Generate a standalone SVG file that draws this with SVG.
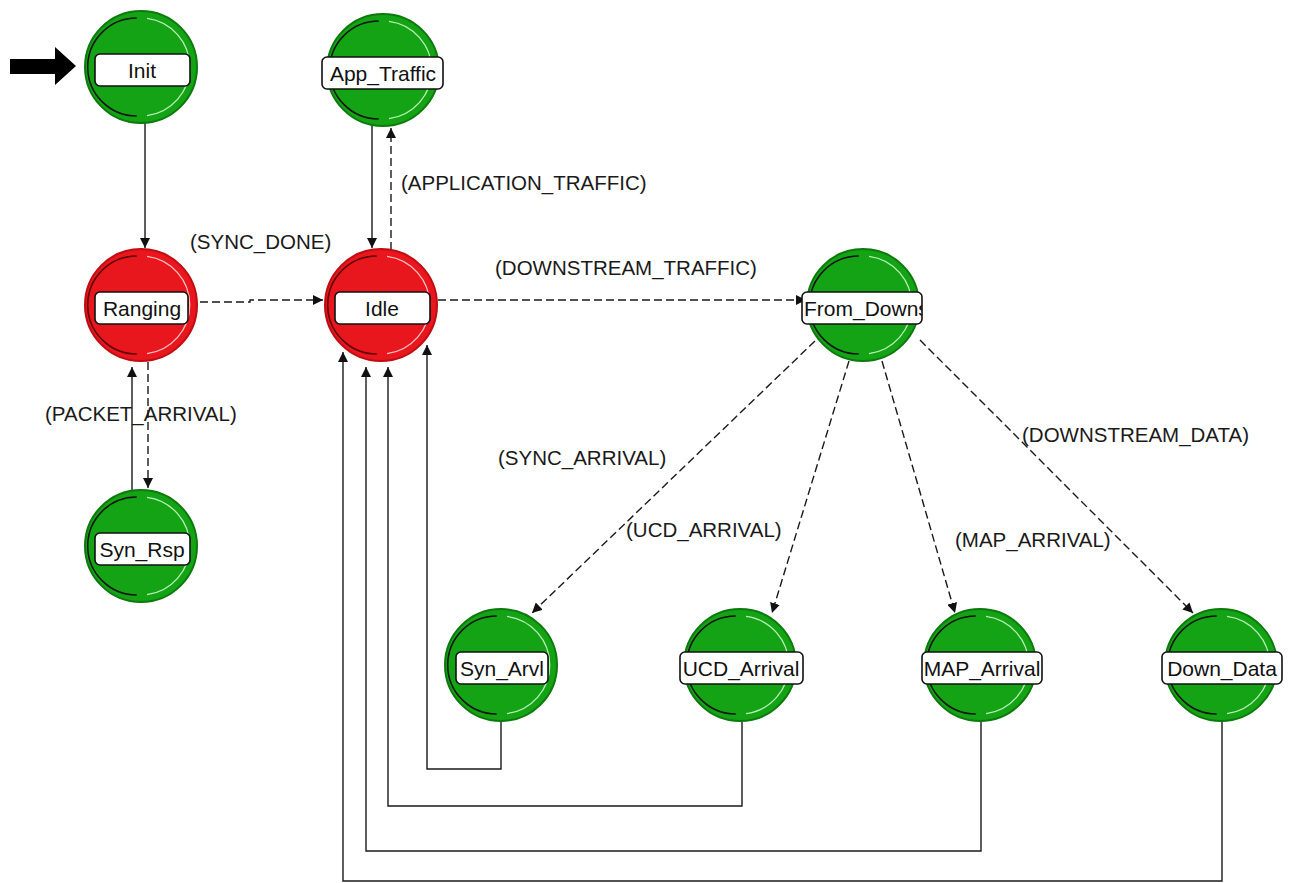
<svg xmlns="http://www.w3.org/2000/svg" width="1291" height="883" viewBox="0 0 1291 883">
  <style>
    .edge { fill: none; stroke: #1a1a1a; stroke-width: 1.4; }
    .dash { stroke-dasharray: 8 4; }
    .lbl { font-family: "Liberation Sans", Arial, sans-serif; font-size: 20.5px; fill: #1a1a1a; }
    .name { font-family: "Liberation Sans", Arial, sans-serif; font-size: 21px; fill: #111; text-anchor: middle; }
    .box { fill: #ffffff; stroke: #111; stroke-width: 1.6; }
  </style>
  <defs>
    <marker id="arr" viewBox="0 0 10 10" refX="10" refY="5" markerWidth="10" markerHeight="10" markerUnits="userSpaceOnUse" orient="auto">
      <path d="M0,0 L10,5 L0,10 z" fill="#111"/>
    </marker>
    <!-- forced (red) and unforced (green) state discs, drawn at the origin -->
    <g id="disc-green">
      <circle r="56" fill="#14a314" stroke="#0d7a0d" stroke-width="2"/>
      <path d="M -4.3 -49 A 49 49 0 0 0 -4.3 49" fill="none" stroke="#111" stroke-width="1.5"/>
      <path d="M 6 -48.6 A 49 49 0 0 1 6 48.6" fill="none" stroke="#b9f2b9" stroke-width="1.3"/>
    </g>
    <g id="disc-red">
      <circle r="56" fill="#e8161d" stroke="#c00c12" stroke-width="2"/>
      <path d="M -4.3 -49 A 49 49 0 0 0 -4.3 49" fill="none" stroke="#5a0000" stroke-width="1.5"/>
      <path d="M 6 -48.6 A 49 49 0 0 1 6 48.6" fill="none" stroke="#ffc0c4" stroke-width="1.3"/>
    </g>
    <clipPath id="clip-from">
      <rect x="802" y="292" width="120" height="32"/>
    </clipPath>
  </defs>

  <!-- initial-state marker -->
  <polygon id="start" points="10,59 55,59 55,47 76,66 55,85 55,74 10,74" fill="#000"/>

  <!-- transitions -->
  <g id="connectors">
    <path class="edge" d="M145 122 V248" marker-end="url(#arr)"/>
    <path class="edge dash" d="M200 302 H250 V300 H323" marker-end="url(#arr)"/>
    <path class="edge dash" d="M148 362 V488" marker-end="url(#arr)"/>
    <path class="edge" d="M132 494 V367" marker-end="url(#arr)"/>
    <path class="edge" d="M372 126 V248" marker-end="url(#arr)"/>
    <path class="edge dash" d="M391 250 V128" marker-end="url(#arr)"/>
    <path class="edge dash" d="M438 300 H806" marker-end="url(#arr)"/>
    <path class="edge dash" d="M815 341 L532 613" marker-end="url(#arr)"/>
    <path class="edge dash" d="M849 361 L772 613" marker-end="url(#arr)"/>
    <path class="edge dash" d="M882 361 L955 613" marker-end="url(#arr)"/>
    <path class="edge dash" d="M920 340 L1193 613" marker-end="url(#arr)"/>
    <path class="edge" d="M501 720 V769 H427 V345" marker-end="url(#arr)"/>
    <path class="edge" d="M742 720 V806 H388 V367" marker-end="url(#arr)"/>
    <path class="edge" d="M981 720 V851 H366 V367" marker-end="url(#arr)"/>
    <path class="edge" d="M1222 720 V881 H343 V352" marker-end="url(#arr)"/>

    <text class="lbl" x="190" y="249">(SYNC_DONE)</text>
    <text class="lbl" x="401" y="190">(APPLICATION_TRAFFIC)</text>
    <text class="lbl" x="495" y="275">(DOWNSTREAM_TRAFFIC)</text>
    <text class="lbl" x="45" y="421">(PACKET_ARRIVAL)</text>
    <text class="lbl" x="498" y="465">(SYNC_ARRIVAL)</text>
    <text class="lbl" x="626" y="537">(UCD_ARRIVAL)</text>
    <text class="lbl" x="955" y="547">(MAP_ARRIVAL)</text>
    <text class="lbl" x="1022" y="442">(DOWNSTREAM_DATA)</text>
  </g>

  <!-- states -->
  <g id="init">
    <use href="#disc-green" x="141" y="67"/>
    <rect class="box" x="95" y="54" width="95" height="32" rx="5"/>
    <text class="name" x="142" y="78">Init</text>
  </g>
  <g id="app_traffic">
    <use href="#disc-green" x="383" y="70"/>
    <rect class="box" x="322" y="57" width="121" height="32" rx="5"/>
    <text class="name" x="383" y="81">App_Traffic</text>
  </g>
  <g id="ranging">
    <use href="#disc-red" x="141" y="305"/>
    <rect class="box" x="95" y="292" width="93" height="32" rx="5"/>
    <text class="name" x="142" y="316">Ranging</text>
  </g>
  <g id="idle">
    <use href="#disc-red" x="381" y="305"/>
    <rect class="box" x="335" y="292" width="95" height="32" rx="5"/>
    <text class="name" x="382" y="316">Idle</text>
  </g>
  <g id="from_downs">
    <use href="#disc-green" x="863" y="305"/>
    <rect class="box" x="802" y="292" width="120" height="32" rx="5"/>
    <text class="name" x="804" y="316" style="text-anchor:start" clip-path="url(#clip-from)">From_Downs</text>
  </g>
  <g id="syn_rsp">
    <use href="#disc-green" x="141" y="546"/>
    <rect class="box" x="95" y="533" width="95" height="32" rx="5"/>
    <text class="name" x="142" y="557">Syn_Rsp</text>
  </g>
  <g id="syn_arvl">
    <use href="#disc-green" x="501" y="665"/>
    <rect class="box" x="456" y="652" width="92" height="32" rx="5"/>
    <text class="name" x="502" y="676">Syn_Arvl</text>
  </g>
  <g id="ucd_arrival">
    <use href="#disc-green" x="740" y="665"/>
    <rect class="box" x="680" y="652" width="123" height="32" rx="5"/>
    <text class="name" x="741" y="676">UCD_Arrival</text>
  </g>
  <g id="map_arrival">
    <use href="#disc-green" x="980" y="665"/>
    <rect class="box" x="922" y="652" width="120" height="32" rx="5"/>
    <text class="name" x="982" y="676">MAP_Arrival</text>
  </g>
  <g id="down_data">
    <use href="#disc-green" x="1221" y="665"/>
    <rect class="box" x="1162" y="652" width="120" height="32" rx="5"/>
    <text class="name" x="1222" y="676">Down_Data</text>
  </g>
</svg>
